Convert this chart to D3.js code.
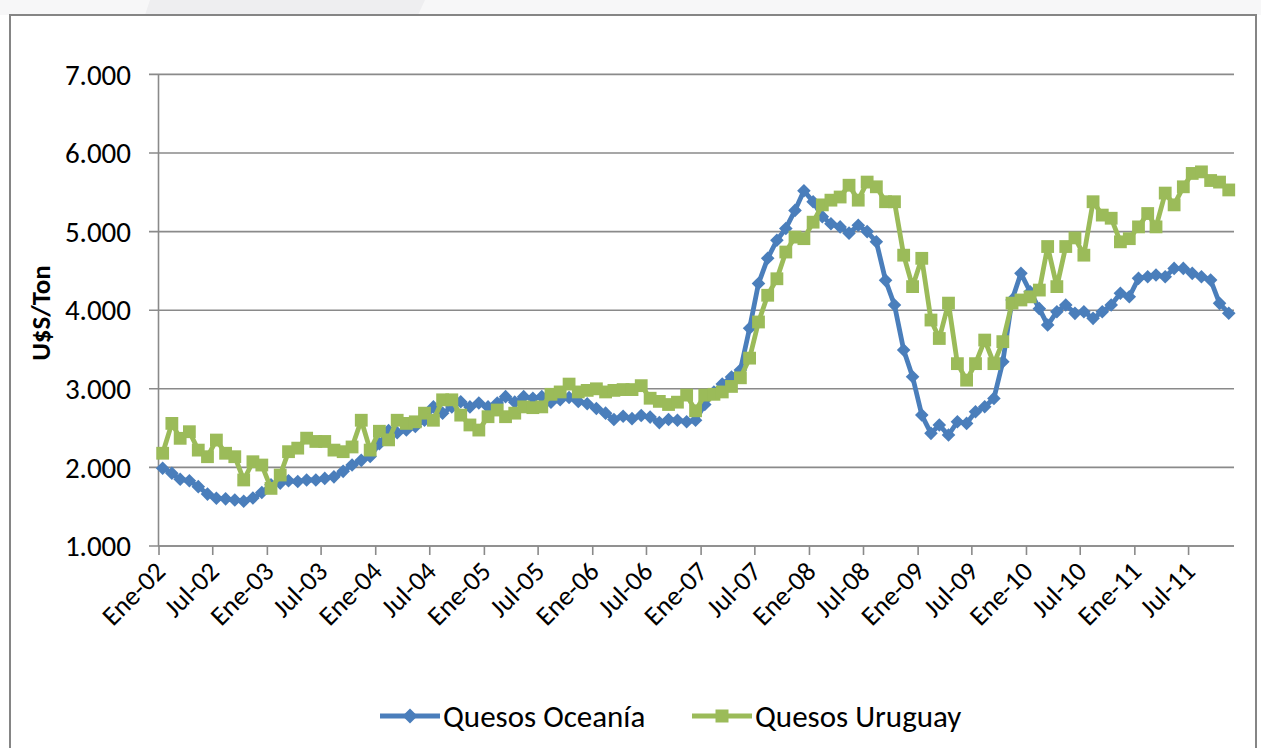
<!DOCTYPE html>
<html><head><meta charset="utf-8">
<script src="https://cdn.jsdelivr.net/npm/d3@7/dist/d3.min.js"></script>
<style>body{margin:0;background:#fff;} svg{display:block;}</style>
</head><body>
<svg id="c" width="1261" height="748"></svg>
<script>
// Monthly data, Jan-2002 .. Nov-2011 (U$S/Ton)
const startYear = 2002;
const seriesNames = ["Quesos Oceanía", "Quesos Uruguay"];
const oceania = [
  1990,1925,1850,1830,1755,1660,1607,1600,1585,1570,1610,1680,
  1780,1800,1830,1820,1840,1840,1860,1880,1950,2030,2090,2140,
  2300,2470,2440,2475,2520,2600,2770,2690,2770,2835,2770,2820,
  2770,2820,2900,2830,2900,2880,2900,2830,2860,2890,2840,2810,
  2750,2690,2610,2650,2620,2660,2640,2570,2610,2600,2580,2600,
  2800,2960,3060,3150,3240,3770,4340,4660,4890,5040,5270,5520,
  5380,5190,5100,5060,4980,5080,5000,4870,4380,4066,3494,3154,
  2666,2433,2539,2412,2581,2560,2708,2772,2878,3344,4129,4469,
  4235,4020,3811,3981,4066,3960,3980,3896,3981,4066,4215,4171,
  4405,4426,4447,4426,4532,4532,4469,4426,4384,4087,3962
];
const uruguay = [
  2180,2560,2370,2454,2220,2136,2348,2180,2136,1840,2072,2030,
  1733,1903,2200,2245,2372,2330,2330,2220,2200,2260,2600,2220,
  2460,2350,2600,2560,2580,2690,2600,2860,2860,2665,2540,2475,
  2645,2730,2645,2690,2770,2760,2770,2930,2960,3060,2960,2980,
  3000,2960,2980,2990,2990,3040,2880,2840,2800,2830,2920,2720,
  2920,2930,2960,3030,3140,3390,3850,4190,4400,4740,4930,4910,
  5120,5340,5400,5440,5590,5400,5630,5570,5380,5380,4700,4300,
  4660,3875,3640,4090,3320,3110,3320,3620,3320,3600,4090,4130,
  4170,4256,4810,4300,4810,4920,4700,5380,5210,5170,4870,4910,
  5060,5230,5060,5490,5340,5570,5740,5760,5650,5630,5530
];
const tickLabels = ["Ene-02","Jul-02","Ene-03","Jul-03","Ene-04","Jul-04","Ene-05","Jul-05",
  "Ene-06","Jul-06","Ene-07","Jul-07","Ene-08","Jul-08","Ene-09","Jul-09","Ene-10","Jul-10",
  "Ene-11","Jul-11"];
const yTicks = [1000,2000,3000,4000,5000,6000,7000];
const yTitle = "U$S/Ton";
const colors = ["#4a7ebb", "#9bbb59"];

const FONT = "Carlito, Calibri, 'Open Sans', sans-serif";
const svg = d3.select("#c");

// background / slide decoration
svg.append("rect").attr("x",0).attr("y",0).attr("width",1261).attr("height",748).attr("fill","#ffffff");
svg.append("rect").attr("x",0).attr("y",0).attr("width",1261).attr("height",15).attr("fill","#f7f7f8");
svg.append("path").attr("d","M150,0 L425,0 L418,15 L145,15 Z").attr("fill","#eeeef0");
// frame
svg.append("rect").attr("x",10).attr("y",15).attr("width",1246).attr("height",745)
  .attr("fill","#fff").attr("stroke","#858585").attr("stroke-width",2);

const x = d3.scaleTime()
  .domain([new Date(startYear,0,1), new Date(2011,11,1)])
  .range([158.5, 1233.5]);
const y = d3.scaleLinear().domain([1000,7000]).range([546, 74.4]);

const locale = d3.formatLocale({decimal:",", thousands:".", grouping:[3], currency:["",""]});
const fmt = locale.format(",.0f");

// gridlines
svg.append("g").selectAll("line").data(yTicks).join("line")
  .attr("x1",149).attr("x2",1234)
  .attr("y1",d=>y(d)).attr("y2",d=>y(d))
  .attr("stroke","#8a8a8a").attr("stroke-width",1.6);

// y axis labels
svg.append("g").selectAll("text").data(yTicks).join("text")
  .attr("x",131).attr("y",d=>y(d)).attr("dy","0.35em")
  .attr("text-anchor","end").attr("font-family",FONT).attr("font-size",29)
  .attr("fill","#000").text(d=>fmt(d));

// y axis line
svg.append("line").attr("x1",158.5).attr("x2",158.5).attr("y1",y(7000)).attr("y2",y(1000))
  .attr("stroke","#8a8a8a").attr("stroke-width",1.6);

// x axis
const tickDates = tickLabels.map((t,k)=>new Date(startYear, 6*k, 1));
const xAxis = d3.axisBottom(x).tickValues(tickDates).tickSize(9).tickSizeOuter(0)
  .tickFormat((d,i)=>tickLabels[i]);
const gx = svg.append("g").attr("transform","translate(0,546)").call(xAxis);
gx.select(".domain").attr("stroke","#8a8a8a").attr("stroke-width",1.6).attr("d","M158.5,0H1234");
gx.selectAll(".tick line").attr("stroke","#8a8a8a").attr("stroke-width",1.6);
gx.selectAll(".tick text")
  .attr("font-family",FONT).attr("font-size",27).attr("fill","#000")
  .attr("text-anchor","end").attr("y",0).attr("dy",0)
  .attr("transform","translate(8,27) rotate(-45)");

// y title
svg.append("text").attr("transform","translate(50,313) rotate(-90)")
  .attr("text-anchor","middle").attr("font-family",FONT).attr("font-weight","bold")
  .attr("font-size",27).attr("fill","#000").text(yTitle);

const dates = oceania.map((d,i)=>new Date(startYear, i, 15));
const line = d3.line().x(d=>x(d[0])).y(d=>y(d[1]));

function diamond(r){ return `M0,${-r}L${r},0L0,${r}L${-r},0Z`; }
function square(r){ return `M${-r},${-r}H${r}V${r}H${-r}Z`; }

const series = [
  {name:seriesNames[0], values:oceania, color:colors[0], marker:diamond(6.8)},
  {name:seriesNames[1], values:uruguay, color:colors[1], marker:square(6.4)}
];

series.forEach(s=>{
  const pts = s.values.map((v,i)=>[dates[i], v]);
  const g = svg.append("g");
  g.append("path").attr("d", line(pts)).attr("fill","none")
    .attr("stroke", s.color).attr("stroke-width",4.8).attr("stroke-linejoin","round");
  g.selectAll("path.m").data(pts).join("path").attr("class","m")
    .attr("transform",d=>`translate(${x(d[0])},${y(d[1])})`)
    .attr("d", s.marker).attr("fill", s.color);
});

// legend
const legend = [
  {x0:380, name:seriesNames[0], color:colors[0], marker:diamond(7.5), tx:443},
  {x0:692, name:seriesNames[1], color:colors[1], marker:square(6.5), tx:755}
];
legend.forEach(l=>{
  svg.append("line").attr("x1",l.x0).attr("x2",l.x0+60).attr("y1",716).attr("y2",716)
    .attr("stroke",l.color).attr("stroke-width",4.8);
  svg.append("path").attr("transform",`translate(${l.x0+30},716)`).attr("d",l.marker).attr("fill",l.color);
  svg.append("text").attr("x",l.tx).attr("y",716).attr("dy","0.35em")
    .attr("font-family",FONT).attr("font-size",31).attr("fill","#000").text(l.name);
});
</script>
</body></html>
